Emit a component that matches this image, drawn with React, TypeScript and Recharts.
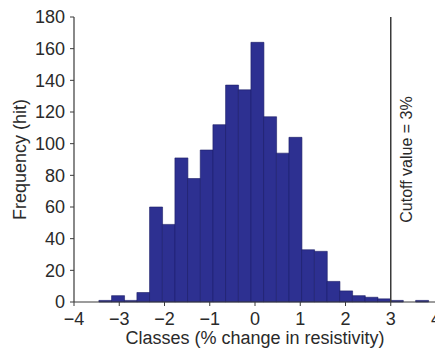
import React from "react";
import {
  ComposedChart,
  Bar,
  XAxis,
  YAxis,
  ReferenceLine,
  Label,
} from "recharts";

// histogram bins (centre of each 0.28-wide class) and hit counts
const binCenters = [
  -3.31, -3.03, -2.75, -2.47, -2.19, -1.91, -1.63, -1.35, -1.07, -0.79, -0.51,
  -0.23, 0.05, 0.33, 0.61, 0.89, 1.17, 1.45, 1.73, 2.01, 2.29, 2.57, 2.85, 3.13,
  3.41, 3.69,
];
const hits = [
  1, 4, 1, 6, 60, 49, 91, 78, 96, 112, 137, 134, 164, 117, 94, 104, 33, 32, 13,
  7, 4, 3, 2, 1, 0, 1,
];
const xTicks = [-4, -3, -2, -1, 0, 1, 2, 3, 4];
const yTicks = [0, 20, 40, 60, 80, 100, 120, 140, 160, 180];
const cutoff = 3;

const data = binCenters.map((x, i) => ({ x, hits: hits[i] }));

const FONT = "'Liberation Sans', Arial, Helvetica, sans-serif";
const INK = "#2a2a2a";
const AXIS = "#3a3a3a";

const fmtX = (v: number) => (v < 0 ? `\u2212${Math.abs(v)}` : String(v));

export default function App() {
  return (
    <div
      style={{
        position: "absolute",
        left: 0,
        top: 0,
        width: 435,
        height: 348,
        overflow: "hidden",
        background: "#fff",
      }}
    >
      <ComposedChart
        width={440}
        height={348}
        data={data}
        margin={{ top: 17, right: 4, left: 0, bottom: 0 }}
        barCategoryGap={0}
        barGap={0}
      >
        <XAxis
          dataKey="x"
          type="number"
          domain={[-4, 4]}
          ticks={xTicks}
          tickFormatter={fmtX}
          height={46}
          tickSize={4}
          tickMargin={6}
          interval={0}
          allowDataOverflow
          axisLine={{ stroke: AXIS, strokeWidth: 1.2 }}
          tickLine={{ stroke: AXIS }}
          tick={{ fill: INK, fontSize: 18, fontFamily: FONT }}
        >
          <Label
            content={({ viewBox }: any) => (
              <text
                x={viewBox.x + viewBox.width / 2}
                y={viewBox.y + 42}
                textAnchor="middle"
                fill={INK}
                fontSize={18}
                fontFamily={FONT}
              >
                Classes (% change in resistivity)
              </text>
            )}
          />
        </XAxis>
        {/* top frame line with outward ticks */}
        <XAxis
          xAxisId="top"
          orientation="top"
          type="number"
          domain={[-4, 4]}
          ticks={xTicks}
          height={0}
          tickSize={4}
          tick={false}
          interval={0}
          axisLine={{ stroke: AXIS, strokeWidth: 1.2 }}
          tickLine={{ stroke: AXIS }}
        />
        <YAxis
          type="number"
          domain={[0, 180]}
          ticks={yTicks}
          width={74}
          tickSize={4}
          tickMargin={5}
          interval={0}
          axisLine={{ stroke: AXIS, strokeWidth: 1.2 }}
          tickLine={{ stroke: AXIS }}
          tick={{ fill: INK, fontSize: 18, fontFamily: FONT }}
        >
          <Label
            content={({ viewBox }: any) => {
              const cx = viewBox.x + 26;
              const cy = viewBox.y + viewBox.height / 2;
              return (
                <text
                  x={cx}
                  y={cy}
                  transform={`rotate(-90, ${cx}, ${cy})`}
                  textAnchor="middle"
                  fill={INK}
                  fontSize={18}
                  fontFamily={FONT}
                >
                  Frequency (hit)
                </text>
              );
            }}
          />
        </YAxis>
        <Bar
          dataKey="hits"
          fill="#2d3091"
          stroke="#1d1f66"
          strokeWidth={0.6}
          isAnimationActive={false}
        />
        <ReferenceLine
          x={cutoff}
          stroke="#3a3a3a"
          strokeWidth={1.5}
          label={({ viewBox }: any) => {
            const cx = viewBox.x + 21;
            const cy = viewBox.y + viewBox.height / 2;
            return (
              <text
                x={cx}
                y={cy}
                transform={`rotate(-90, ${cx}, ${cy})`}
                textAnchor="middle"
                fill={INK}
                fontSize={16}
                fontFamily={FONT}
              >
                Cutoff value = 3%
              </text>
            );
          }}
        />
      </ComposedChart>
    </div>
  );
}
